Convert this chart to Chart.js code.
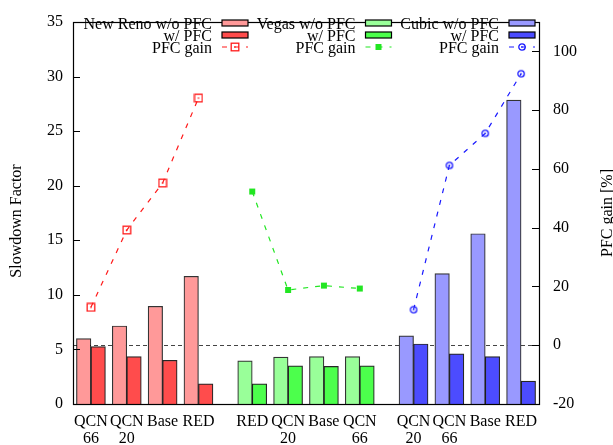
<!DOCTYPE html>
<html>
<head>
<meta charset="utf-8">
<script src="https://cdn.jsdelivr.net/npm/chart.js@4.4.0/dist/chart.umd.min.js"></script>
<style>
  html, body { margin: 0; padding: 0; background: #fff; }
  #wrap { width: 613px; height: 445px; }
</style>
</head>
<body>
<div id="wrap"><canvas id="chart" width="613" height="445"></canvas></div>
<script>
// Slowdown of each TCP variant per queue scheme, with and without PFC,
// plus the relative PFC gain on the right-hand axis.
const protocols = ['New Reno', 'Vegas', 'Cubic'];

const renoSchemes = [['QCN', '66'], ['QCN', '20'], 'Base', 'RED'];
const vegasSchemes = ['RED', ['QCN', '20'], 'Base', ['QCN', '66']];
const cubicSchemes = [['QCN', '20'], ['QCN', '66'], 'Base', 'RED'];

const renoNoPfc = [6.0, 7.15, 8.95, 11.7];
const renoPfc = [5.25, 4.35, 4.0, 1.85];
const renoGain = [12.9, 39.2, 55.2, 84.1];

const vegasNoPfc = [3.95, 4.3, 4.35, 4.35];
const vegasPfc = [1.85, 3.5, 3.45, 3.5];
const vegasGain = [52.3, 18.8, 20.3, 19.3];

const cubicNoPfc = [6.25, 11.95, 15.6, 27.85];
const cubicPfc = [5.5, 4.6, 4.35, 2.1];
const cubicGain = [12.1, 61.2, 72.1, 92.4];

const slowdownTicks = [0, 5, 10, 15, 20, 25, 30, 35];
const gainTicks = [-20, 0, 20, 40, 60, 80, 100];

const FONT = 'Liberation Serif';
Chart.defaults.font.family = FONT;
Chart.defaults.font.size = 16;
Chart.defaults.color = '#000';
const tickFont = { family: FONT, size: 16, lineHeight: 1.0 };

const groups = [
    { schemes: renoSchemes, noPfc: renoNoPfc, pfc: renoPfc, gain: renoGain,
      light: '#ff9999', dark: '#ff4c4c', line: '#ff1a1a', point: 'square' },
    { schemes: vegasSchemes, noPfc: vegasNoPfc, pfc: vegasPfc, gain: vegasGain,
      light: '#99ff99', dark: '#4cff4c', line: '#22e622', point: 'filled' },
    { schemes: cubicSchemes, noPfc: cubicNoPfc, pfc: cubicPfc, gain: cubicGain,
      light: '#9999ff', dark: '#4c4cff', line: '#1a1aff', point: 'circle' },
];

// x position of a bar pair: half a slot of space between the groups
const slot = (g, i) => g * 4.5 + i + 1;

// little gnuplot-like point glyphs
function makePoint(kind, color) {
    const c = document.createElement('canvas');
    c.width = 10; c.height = 10;
    const ctx = c.getContext('2d');
    ctx.strokeStyle = color;
    ctx.fillStyle = color;
    ctx.lineWidth = 1.3;
    if (kind === 'filled') {
        ctx.fillRect(2, 2, 6, 6);
    } else if (kind === 'square') {
        ctx.strokeRect(1.2, 1.2, 7.6, 7.6);
        ctx.fillRect(4.3, 4.3, 1.4, 1.4);
    } else {
        ctx.beginPath();
        ctx.arc(5, 5, 3.2, 0, Math.PI * 2);
        ctx.stroke();
        ctx.fillRect(4.3, 4.3, 1.4, 1.4);
    }
    return c;
}

const tickLabels = {};
const positions = [];
const datasets = [];
groups.forEach((grp, g) => {
    grp.schemes.forEach((s, i) => {
        positions.push(slot(g, i));
        tickLabels[slot(g, i)] = s;
    });
    grp.pointImg = makePoint(grp.point, grp.line);
    datasets.push({
        type: 'bar',
        label: protocols[g] + ' w/o PFC',
        data: grp.noPfc.map((v, i) => ({ x: slot(g, i), y: v })),
        stack: 'nopfc',
        backgroundColor: grp.light,
        borderColor: 'rgba(0,0,0,0.8)',
        borderWidth: 1.2,
        yAxisID: 'y',
        order: 2,
    });
    datasets.push({
        type: 'bar',
        label: 'w/ PFC',
        data: grp.pfc.map((v, i) => ({ x: slot(g, i), y: v })),
        stack: 'pfc',
        backgroundColor: grp.dark,
        borderColor: 'rgba(0,0,0,0.85)',
        borderWidth: 1.2,
        yAxisID: 'y',
        order: 2,
    });
    datasets.push({
        type: 'line',
        label: 'PFC gain',
        data: grp.gain.map((v, i) => ({ x: slot(g, i), y: v })),
        borderColor: grp.line,
        borderWidth: 1.2,
        borderDash: [5, 7],
        pointStyle: grp.pointImg,
        pointRadius: 4,
        yAxisID: 'y2',
        order: 0,
    });
});

// box, inward ticks, zero reference line, legend and axis titles
const framePlugin = {
    id: 'frame',
    beforeDatasetsDraw(chart) {
        const { ctx, chartArea: a } = chart;
        const y0 = chart.scales.y2.getPixelForValue(0);
        ctx.save();
        ctx.strokeStyle = '#444';
        ctx.lineWidth = 1;
        ctx.setLineDash([4, 3]);
        ctx.beginPath();
        ctx.moveTo(a.left, Math.round(y0) + 0.5);
        ctx.lineTo(a.right, Math.round(y0) + 0.5);
        ctx.stroke();
        ctx.restore();
    },
    afterDatasetsDraw(chart) {
        const { ctx, chartArea: a } = chart;
        ctx.save();
        ctx.strokeStyle = '#000';
        ctx.lineWidth = 1.2;
        ctx.strokeRect(a.left + 0.5, a.top + 0.5, a.right - a.left, a.bottom - a.top);

        ctx.beginPath();
        chart.scales.y.ticks.forEach(t => {
            const py = Math.round(chart.scales.y.getPixelForValue(t.value)) + 0.5;
            ctx.moveTo(a.left, py);
            ctx.lineTo(a.left + 7, py);
        });
        chart.scales.y2.ticks.forEach(t => {
            const py = Math.round(chart.scales.y2.getPixelForValue(t.value)) + 0.5;
            ctx.moveTo(a.right - 7, py);
            ctx.lineTo(a.right, py);
        });
        ctx.stroke();

        // legend: one column per protocol, text right-aligned next to its sample
        ctx.font = '16px ' + FONT;
        ctx.fillStyle = '#000';
        ctx.textAlign = 'right';
        ctx.textBaseline = 'alphabetic';
        const rowsY = [23, 35, 47];
        const ds = chart.data.datasets;
        groups.forEach((grp, g) => {
            const sx = 222 + g * 143.5;
            for (let r = 0; r < 3; r++) {
                const d = ds[g * 3 + r];
                const cy = rowsY[r];
                ctx.fillStyle = '#000';
                ctx.fillText(d.label, sx - 10, cy + 5.5);
                if (r < 2) {
                    ctx.fillStyle = d.backgroundColor;
                    ctx.fillRect(sx, cy - 3, 26, 6);
                    ctx.lineWidth = 1.2;
                    ctx.strokeStyle = '#000';
                    ctx.strokeRect(sx, cy - 3, 26, 6);
                } else {
                    ctx.strokeStyle = d.borderColor;
                    ctx.lineWidth = 1.2;
                    ctx.setLineDash([5, 7]);
                    ctx.beginPath();
                    ctx.moveTo(sx, cy);
                    ctx.lineTo(sx + 26, cy);
                    ctx.stroke();
                    ctx.setLineDash([]);
                    ctx.drawImage(grp.pointImg, sx + 13 - 5, cy - 5);
                }
            }
        });

        // axis titles, both reading upwards
        ctx.textAlign = 'center';
        ctx.textBaseline = 'middle';
        ctx.fillStyle = '#000';
        const midY = (a.top + a.bottom) / 2;
        ctx.save();
        ctx.translate(17, midY + 8);
        ctx.rotate(-Math.PI / 2);
        ctx.fillText('Slowdown Factor', 0, 0);
        ctx.restore();
        ctx.save();
        ctx.translate(608, midY);
        ctx.rotate(-Math.PI / 2);
        ctx.fillText('PFC gain [%]', 0, 0);
        ctx.restore();
        ctx.restore();
    }
};

new Chart(document.getElementById('chart').getContext('2d'), {
    data: { datasets },
    options: {
        responsive: false,
        animation: false,
        font: { family: FONT },
        layout: { padding: { top: 13, left: 0, right: 0, bottom: 0 } },
        plugins: { legend: { display: false }, tooltip: { enabled: false } },
        datasets: { bar: { barThickness: 14.5, grouped: true } },
        scales: {
            x: {
                type: 'linear',
                min: 0.5,
                max: 13.5,
                offset: false,
                stacked: true,
                grid: { display: false, drawTicks: false, offset: false },
                border: { display: false },
                afterBuildTicks: (axis) => { axis.ticks = positions.map(v => ({ value: v })); },
                afterFit: (axis) => { axis.height = 41; },
                ticks: {
                    autoSkip: false,
                    maxRotation: 0,
                    padding: 10,
                    color: '#000',
                    font: { family: FONT, size: 16, lineHeight: 1.02 },
                    callback: (v) => tickLabels[v],
                },
            },
            y: {
                position: 'left',
                min: 0,
                max: 35,
                stacked: false,
                grid: { display: false, drawTicks: false },
                border: { display: false },
                afterBuildTicks: (axis) => { axis.ticks = slowdownTicks.map(v => ({ value: v })); },
                afterFit: (axis) => { axis.width = 73; },
                ticks: { padding: 10, color: '#000', font: tickFont },
            },
            y2: {
                position: 'right',
                min: -20,
                max: 110,
                grid: { display: false, drawTicks: false },
                border: { display: false },
                afterBuildTicks: (axis) => { axis.ticks = gainTicks.map(v => ({ value: v })); },
                afterFit: (axis) => { axis.width = 74; },
                ticks: { padding: 14, color: '#000', font: tickFont },
            },
        },
    },
    plugins: [framePlugin],
});
</script>
</body>
</html>
